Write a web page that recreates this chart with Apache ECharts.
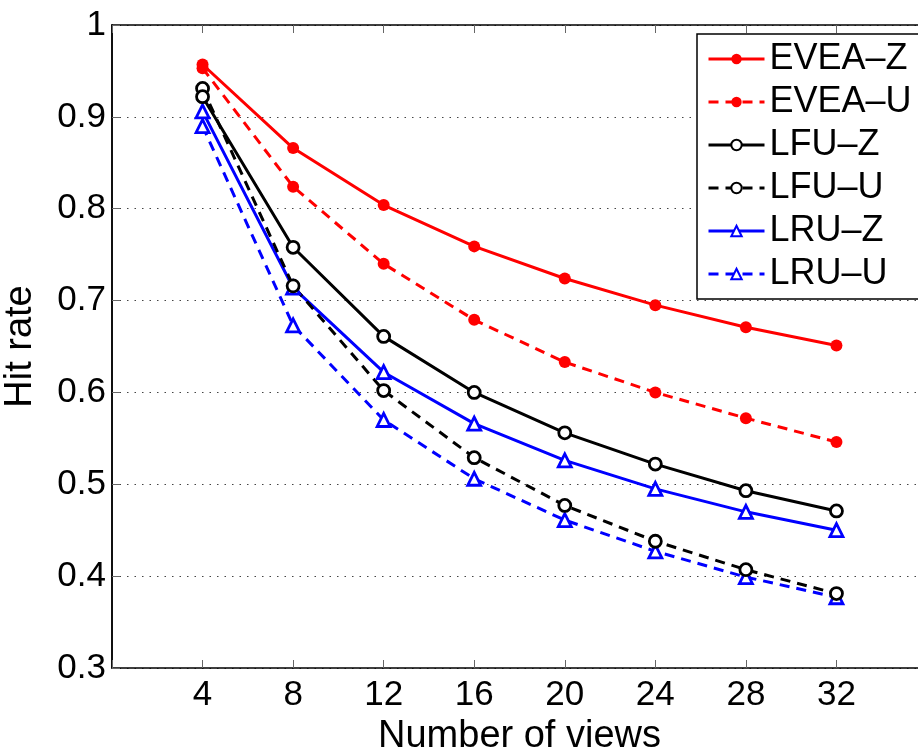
<!DOCTYPE html>
<html>
<head>
<meta charset="utf-8">
<script src="https://cdn.jsdelivr.net/npm/echarts@6/dist/echarts.min.js"></script>
<style>
  html, body { margin: 0; padding: 0; background: #fff; }
  #hitRate { width: 918px; height: 747px; }
</style>
</head>
<body>
<div id="hitRate"></div>
<script>
var views = [4, 8, 12, 16, 20, 24, 28, 32];
var xTicks = [4, 8, 12, 16, 20, 24, 28, 32];

var eveaZ = [0.957, 0.866, 0.804, 0.759, 0.724, 0.695, 0.671, 0.651];
var eveaU = [0.953, 0.824, 0.740, 0.679, 0.633, 0.600, 0.572, 0.546];
var lfuZ  = [0.922, 0.758, 0.661, 0.600, 0.556, 0.522, 0.493, 0.471];
var lfuU  = [0.931, 0.716, 0.602, 0.529, 0.477, 0.438, 0.407, 0.381];
var lruZ  = [0.906, 0.714, 0.622, 0.566, 0.526, 0.495, 0.470, 0.450];
var lruU  = [0.890, 0.673, 0.570, 0.506, 0.461, 0.427, 0.399, 0.377];

var FONT = '"Liberation Sans", Arial, sans-serif';

function pairs(arr) {
  var out = [];
  for (var i = 0; i < views.length; i++) {
    out.push([views[i], arr[i]]);
  }
  return out;
}

function makeSeries(name, arr, color, dashed, symbol, size, filled) {
  return {
    name: name,
    type: 'line',
    data: pairs(arr),
    symbol: symbol,
    symbolSize: size,
    showAllSymbol: true,
    animation: false,
    lineStyle: {
      color: color,
      width: 3,
      type: dashed ? [10, 7] : 'solid'
    },
    itemStyle: {
      color: filled ? color : '#fff',
      borderColor: color,
      borderWidth: filled ? 0 : 2.8
    }
  };
}

var chartDom = document.getElementById('hitRate');
var myChart = echarts.init(chartDom);
var option;

option = {
  backgroundColor: '#fff',
  animation: false,
  grid: {
    left: 112,
    top: 25,
    right: -9,
    bottom: 79,
    outerBoundsMode: 'none'
  },
  legend: {
    left: 697,
    top: 34,
    orient: 'vertical',
    padding: [7, 8, 7, 10],
    itemGap: 7,
    itemWidth: 56,
    itemHeight: 13,
    borderColor: '#000',
    borderWidth: 1.5,
    backgroundColor: '#fff',
    lineStyle: { width: 3 },
    textStyle: {
      fontFamily: FONT,
      fontSize: 36,
      lineHeight: 36,
      color: '#000'
    },
    data: ['EVEA–Z', 'EVEA–U', 'LFU–Z', 'LFU–U', 'LRU–Z', 'LRU–U']
  },
  xAxis: [
    {
      type: 'value',
      min: 0,
      max: 36,
      interval: 4,
      name: 'Number of views',
      nameLocation: 'middle',
      nameGap: 50,
      nameTextStyle: { fontFamily: FONT, fontSize: 38, color: '#000' },
      axisLine: { show: true, lineStyle: { color: '#000', width: 1.5 } },
      axisTick: { show: true, inside: true, length: 8, lineStyle: { color: '#666', width: 1 } },
      axisLabel: {
        fontFamily: FONT,
        fontSize: 35,
        color: '#000',
        margin: 10,
        formatter: function (v) {
          return xTicks.indexOf(v) >= 0 ? String(v) : '';
        }
      },
      splitLine: { show: false }
    },
    {
      type: 'value',
      position: 'top',
      min: 0,
      max: 36,
      interval: 4,
      axisLine: { show: true, lineStyle: { color: '#000', width: 1.5 } },
      axisTick: { show: true, inside: true, length: 8, lineStyle: { color: '#666', width: 1 } },
      axisLabel: { show: false },
      splitLine: { show: false }
    }
  ],
  yAxis: [
    {
      type: 'value',
      min: 0.3,
      max: 1,
      interval: 0.1,
      name: 'Hit rate',
      nameLocation: 'middle',
      nameGap: 72,
      nameTextStyle: { fontFamily: FONT, fontSize: 38, color: '#000' },
      axisLine: { show: true, lineStyle: { color: '#000', width: 1.5 } },
      axisTick: { show: true, inside: true, length: 8, lineStyle: { color: '#666', width: 1 } },
      axisLabel: {
        fontFamily: FONT,
        fontSize: 35,
        color: '#000',
        margin: 6,
        formatter: function (v) {
          return Math.abs(v - 1) < 1e-9 ? '1' : v.toFixed(1);
        }
      },
      splitLine: {
        show: true,
        lineStyle: { color: '#444', width: 1, type: [1.5, 6] }
      }
    },
    {
      type: 'value',
      position: 'right',
      min: 0.3,
      max: 1,
      interval: 0.1,
      axisLine: { show: true, lineStyle: { color: '#000', width: 1.5 } },
      axisTick: { show: false },
      axisLabel: { show: false },
      splitLine: { show: false }
    }
  ],
  series: [
    makeSeries('LRU–U', lruU, '#0000ff', true, 'triangle', 13, false),
    makeSeries('LRU–Z', lruZ, '#0000ff', false, 'triangle', 13, false),
    makeSeries('LFU–U', lfuU, '#000000', true, 'circle', 12, false),
    makeSeries('LFU–Z', lfuZ, '#000000', false, 'circle', 12, false),
    makeSeries('EVEA–U', eveaU, '#ff0000', true, 'circle', 12, true),
    makeSeries('EVEA–Z', eveaZ, '#ff0000', false, 'circle', 12, true)
  ]
};

option && myChart.setOption(option);
</script>
</body>
</html>
